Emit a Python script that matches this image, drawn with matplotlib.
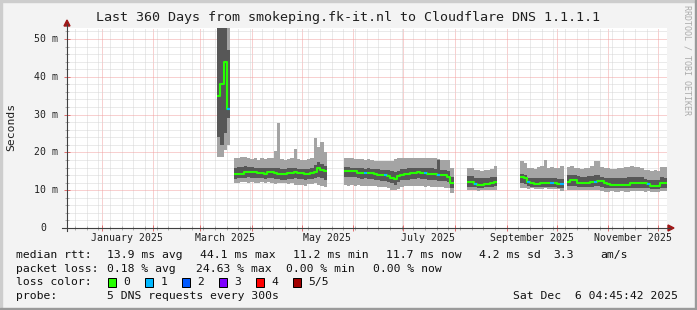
import datetime as dt
import numpy as np
import matplotlib
matplotlib.use("Agg")
import matplotlib.pyplot as plt
import matplotlib.dates as mdates
from matplotlib.patches import Rectangle, Polygon
from matplotlib.lines import Line2D

nan = np.nan
W, H = 697, 310

# time frame of the graph, samples are 2 day bins starting at day 90
start = dt.datetime(2024, 12, 11, 4, 45, 42)
end = dt.datetime(2025, 12, 6, 4, 45, 42)
first_day = 90
bin_days = 2

# median rtt in ms (nan = no data)
median_ms = [35, 38, 44, 31.5, nan,
             14.3, 14.3, 14.4, 14.8, 14.9, 14.9, 14.9, 14.6, 14.5, 14.4, 14.9, 14.9, 14.6, 14.3,
             14.2, 14.2, 14.5, 14.6, 14.7, 14.6, 14.6, 14.2, 14.4, 14.6, 14.8, 15.8, 15.4, 15.0,
             nan, nan, nan, nan, nan,
             15.1, 15.1, 15.0, 15.0, 14.6, 14.5, 14.6, 14.6, 14.5, 14.3, 14.1, 14.1, 13.9, 13.8,
             13.3, 13.0, 13.8, 14.1, 14.3, 14.3, 14.6, 14.5, 14.7, 14.6, 14.5, 14.3, 14.2, 14.2,
             14.0, 13.9, 13.9, 13.6, 11.9,
             nan, nan, nan, nan,
             12.1, 12.1, 11.6, 11.4, 11.4, 11.6, 11.6, 11.8, 12.1,
             nan, nan, nan, nan, nan, nan, nan,
             13.4, 13.2, 12.1, 12.0, 11.6, 11.6, 11.8, 11.8, 11.8, 11.8, 11.8, 11.6, 11.6,
             nan,
             12.1, 12.7, 12.7, 11.9, 11.9, 11.9, 11.9, 12.1, 12.1, 12.4, 12.4, 11.9, 11.6, 11.4, 11.4,
             11.4, 11.4, 11.4, 11.4, 11.8, 11.8, 11.8, 11.8, 11.8, 11.6, 11.2, 11.2, 11.2, 11.9, 11.9]

# smoke: outer band (min..max) and inner band
outer_hi = [53, 53, 53, 53, nan,
            18.4, 18.6, 18.9, 18.7, 18.5, 18.3, 18.6, 18.0, 18.4, 18.2, 18.6, 18.5, 20.4, 27.8,
            18.3, 18.0, 18.2, 18.4, 21.0, 18.2, 18.0, 17.9, 18.2, 18.4, 23.8, 21.5, 22.8, 20.0,
            nan, nan, nan, nan, nan,
            18.6, 18.5, 18.4, 18.3, 18.2, 18.3, 18.1, 18.2, 18.0, 17.8, 17.7, 17.7, 17.6, 17.7,
            17.8, 18.2, 18.4, 18.5, 18.5, 18.6, 18.4, 18.6, 18.5, 18.6, 18.6, 18.5, 18.6, 18.4,
            18.2, 18.1, 18.1, 18.0, 16.0,
            nan, nan, nan, nan,
            15.9, 15.8, 15.3, 15.4, 15.2, 15.3, 15.4, 15.6, 16.5,
            nan, nan, nan, nan, nan, nan, nan,
            17.6, 17.3, 15.8, 15.9, 15.7, 16.2, 16.3, 17.9, 16.0, 16.1, 15.9, 16.0, 16.5,
            nan,
            16.2, 16.4, 15.8, 15.9, 15.7, 15.8, 16.0, 16.3, 17.7, 17.8, 16.2, 15.8, 15.9, 15.7, 15.6,
            15.8, 15.9, 16.1, 16.2, 16.3, 16.1, 16.2, 16.0, 15.4, 15.3, 15.2, 15.3, 15.2, 16.2, 16.1]

outer_lo = [18.8, 18.8, 20.6, 22, nan,
            12.0, 12.0, 12.2, 12.1, 12.0, 12.2, 12.0, 11.9, 12.1, 12.0, 12.1, 11.8, 11.6, 11.8,
            11.9, 12.0, 11.7, 11.8, 11.5, 11.4, 11.3, 11.2, 11.6, 11.6, 11.8, 11.5, 11.0, 10.8,
            nan, nan, nan, nan, nan,
            11.3, 11.2, 11.3, 11.2, 11.3, 11.2, 11.2, 11.1, 11.0, 11.0, 10.9, 10.9, 10.8, 10.6,
            10.0, 10.0, 10.4, 10.8, 11.0, 11.1, 11.1, 11.0, 11.1, 11.0, 10.9, 11.0, 10.9, 10.8,
            10.9, 10.8, 10.7, 10.6, 9.3,
            nan, nan, nan, nan,
            10.0, 10.1, 10.0, 9.9, 10.0, 10.1, 10.0, 10.0, 10.1,
            nan, nan, nan, nan, nan, nan, nan,
            10.5, 10.5, 10.4, 10.5, 10.4, 10.3, 10.4, 10.5, 10.4, 10.3, 10.2, 10.2, 9.9,
            nan,
            10.0, 10.1, 10.0, 10.0, 10.1, 10.0, 10.0, 10.1, 10.0, 10.0, 9.8, 9.6, 9.6, 9.7, 9.6,
            9.6, 9.7, 9.6, 9.6, 9.7, 9.7, 9.8, 9.7, 9.6, 9.7, 9.6, 9.5, 9.6, 9.8, 9.9]

inner_hi = [53, 53, 53, 47, nan,
            16.0, 16.1, 16.2, 16.3, 16.2, 16.1, 16.0, 15.9, 16.0, 15.8, 16.0, 15.9, 15.8, 15.9,
            15.6, 15.7, 15.8, 15.9, 15.8, 15.7, 15.6, 15.5, 15.7, 15.8, 16.6, 17.4, 17.0, 16.4,
            nan, nan, nan, nan, nan,
            16.2, 16.2, 16.0, 16.0, 15.9, 15.9, 15.7, 15.8, 15.7, 15.6, 15.5, 15.4, 15.3, 15.3,
            15.0, 14.8, 15.2, 15.6, 15.7, 15.8, 15.9, 15.8, 15.9, 16.0, 15.9, 15.8, 15.8, 15.7,
            18.0, 15.4, 15.3, 15.1, 13.5,
            nan, nan, nan, nan,
            13.8, 13.7, 13.3, 13.2, 13.2, 13.3, 13.3, 13.4, 13.6,
            nan, nan, nan, nan, nan, nan, nan,
            14.2, 14.0, 13.3, 13.2, 13.1, 13.1, 13.2, 13.3, 13.2, 13.1, 13.1, 13.0, 13.0,
            nan,
            14.0, 14.0, 13.9, 13.8, 13.6, 13.6, 13.7, 13.8, 14.0, 14.0, 13.6, 13.3, 13.2, 13.2, 13.1,
            13.2, 13.2, 13.3, 13.4, 13.4, 13.5, 13.4, 13.4, 13.0, 12.8, 12.7, 12.7, 12.8, 13.4, 13.3]

inner_lo = [24, 22, 25, 29, nan,
            13.0, 13.1, 13.1, 13.3, 13.4, 13.3, 13.3, 13.2, 13.1, 13.0, 13.3, 13.2, 13.0, 12.9,
            12.8, 12.8, 13.0, 13.0, 13.1, 13.0, 12.9, 12.7, 12.9, 13.0, 13.2, 13.6, 13.2, 12.8,
            nan, nan, nan, nan, nan,
            13.6, 13.5, 13.5, 13.4, 13.1, 13.0, 13.1, 13.0, 12.9, 12.7, 12.6, 12.5, 12.3, 12.2,
            11.8, 11.5, 12.2, 12.6, 12.8, 12.8, 13.0, 12.9, 13.1, 13.0, 12.9, 12.7, 12.6, 12.6,
            12.5, 12.4, 12.3, 12.1, 10.5,
            nan, nan, nan, nan,
            10.9, 10.9, 10.8, 10.7, 10.7, 10.8, 10.8, 10.9, 11.0,
            nan, nan, nan, nan, nan, nan, nan,
            11.8, 11.6, 11.0, 10.9, 10.8, 10.8, 10.9, 10.9, 10.9, 10.8, 10.8, 10.7, 10.5,
            nan,
            11.0, 11.2, 11.1, 10.9, 10.8, 10.8, 10.9, 10.9, 11.0, 11.0, 10.8, 10.6, 10.5, 10.5, 10.5,
            10.5, 10.6, 10.6, 10.6, 10.7, 10.7, 10.7, 10.7, 10.6, 10.5, 10.3, 10.3, 10.3, 10.6, 10.7]

# bins where 1 of 5 pings was lost
loss1_bins = [3, 44, 50, 62, 66, 77, 93, 100, 103, 113, 129]

y_ticks = [0, 10, 20, 30, 40, 50]
y_labels = ["0", "10 m", "20 m", "30 m", "40 m", "50 m"]
month_labels = ["January 2025", "March 2025", "May 2025", "July 2025",
                "September 2025", "November 2025"]
month_label_dates = [dt.datetime(2025, m, 16) for m in (1, 3, 5, 7, 9, 11)]

loss_names = ["0", "1", "2", "3", "4", "5/5"]
loss_colors = ["#26ff00", "#00b8ff", "#0059ff", "#7e00ff", "#ff0000", "#a10000"]

legend_rows = [
    [("median rtt:", 16), ("13.9 ms avg", 107.3), ("44.1 ms max", 200), ("11.2 ms min", 293.3),
     ("11.7 ms now", 386), ("4.2 ms sd", 479.3), ("3.3", 553.3), ("am/s", 600.7)],
    [("packet loss:", 16), ("0.18 % avg", 107.3), ("24.63 % max", 196), ("0.00 % min", 286),
     ("0.00 % now", 372.7)],
    [("loss color:", 16)],
    [("probe:", 16), ("5 DNS requests every 300s", 107.3)],
]
stamp = "Sat Dec  6 04:45:42 2025"
title = "Last 360 Days from smokeping.fk-it.nl to Cloudflare DNS 1.1.1.1"

MONO = "DejaVu Sans Mono"
BG = "#f3f3f3"


def px(x, y):
    return x / W, 1 - y / H


fig = plt.figure(figsize=(W / 100, H / 100), dpi=100, facecolor=BG)

# 3d-ish frame: light top/left, dark bottom/right
fig.patches.append(Rectangle(px(0, 310), 2 / W, 1, transform=fig.transFigure, color="#cdcdcd"))
fig.patches.append(Rectangle(px(0, 2), 1, 2 / H, transform=fig.transFigure, color="#cdcdcd"))
fig.patches.append(Rectangle(px(695, 310), 2 / W, 1, transform=fig.transFigure, color="#9a9a9a"))
fig.patches.append(Rectangle(px(0, 310), 1, 2 / H, transform=fig.transFigure, color="#9a9a9a"))

ax = fig.add_axes([67 / W, 1 - 228 / H, 600 / W, 200 / H])
ax.set_facecolor("white")

t0 = mdates.date2num(start)
lefts = t0 + first_day + bin_days * np.arange(len(median_ms))

o_lo = np.array(outer_lo)
o_hi = np.array(outer_hi)
i_lo = np.array(inner_lo)
i_hi = np.array(inner_hi)
med = np.array(median_ms)

ax.bar(lefts, o_hi - o_lo, bottom=o_lo, width=bin_days, align="edge",
       color="#a4a4a4", linewidth=0, antialiased=False, zorder=2)
ax.bar(lefts, i_hi - i_lo, bottom=i_lo, width=bin_days, align="edge",
       color="#575757", linewidth=0, antialiased=False, zorder=3)

xs = np.column_stack([lefts, lefts + bin_days]).ravel()
ys = np.repeat(med, 2)
ax.plot(xs, ys, color=loss_colors[0], lw=1.5, solid_capstyle="butt", zorder=4)
for k in loss1_bins:
    ax.hlines(med[k], lefts[k], lefts[k] + bin_days, colors=loss_colors[1], lw=1.5, zorder=5)

ax.set_xlim(mdates.date2num(start), mdates.date2num(end))
ax.set_ylim(0, 52.9)

ax.xaxis.set_major_locator(mdates.MonthLocator(bymonthday=1))
ax.xaxis.set_minor_locator(mdates.WeekdayLocator(byweekday=mdates.MO))
ax.set_yticks(y_ticks)
ax.set_yticks(np.arange(0, 53, 2), minor=True)
ax.grid(which="minor", color="#d6d6d6", lw=0.72, ls=(0, (1, 1)), zorder=1)
ax.grid(which="major", color="#f2a2a2", lw=0.72, ls=(0, (1, 1)), zorder=1)
ax.set_axisbelow(True)
ax.tick_params(which="both", labelleft=False, labelbottom=False, direction="inout")
ax.tick_params(which="major", length=4, width=0.72, color="#e07070")
ax.tick_params(which="minor", length=3, width=0.72, color="#b0b0b0")
for s in ax.spines.values():
    s.set_visible(False)

# axes with arrows
fig.add_artist(Line2D(*zip(px(67, 231), px(67, 24)), transform=fig.transFigure, color="#404040", lw=0.8))
fig.add_artist(Line2D(*zip(px(62, 228), px(670, 228)), transform=fig.transFigure, color="#404040", lw=0.8))
fig.add_artist(Polygon([px(67, 20), px(64, 26), px(70, 26)], closed=True,
                       transform=fig.transFigure, color="#a01818"))
fig.add_artist(Polygon([px(674, 228), px(668, 225), px(668, 231)], closed=True,
                       transform=fig.transFigure, color="#a01818"))

# tick labels
for v, lab in zip(y_ticks, y_labels):
    xr = -8.7 / 600 if lab != "0" else -20.7 / 600
    ax.text(xr, v, lab, transform=ax.get_yaxis_transform(), ha="right", va="center",
            family=MONO, fontsize=7.15, color="#202020")
for d, lab in zip(month_label_dates, month_labels):
    ax.text(mdates.date2num(d), -10 / 200, lab, transform=ax.get_xaxis_transform(),
            ha="center", va="center", family=MONO, fontsize=7.15, color="#202020")

fig.text(*px(348.5, 18), title, ha="center", va="center", family=MONO, fontsize=9.6, color="#202020")
fig.text(*px(11, 127), "Seconds", ha="center", va="center", rotation=90, family=MONO,
         fontsize=8.2, color="#202020")
fig.text(*px(687, 60), "RRDTOOL / TOBI OETIKER", ha="center", va="center", rotation=270,
         family=MONO, fontsize=6, color="#ababab")

# legend
row_y = [255, 268.5, 282, 296]
for row, y in zip(legend_rows, row_y):
    for txt, x in row:
        fig.text(*px(x, y), txt, ha="left", va="center", family=MONO, fontsize=8.2, color="#101010")
for i, (name, c) in enumerate(zip(loss_names, loss_colors)):
    bx = 108.3 + i * 37
    fig.patches.append(Rectangle(px(bx, 286.5), 8 / W, 8.5 / H, transform=fig.transFigure,
                                 facecolor=c, edgecolor="black", lw=0.72))
    fig.text(*px(bx + 15, 282), name, ha="left", va="center", family=MONO, fontsize=8.2, color="#101010")
fig.text(*px(513.3, 296), stamp, ha="left", va="center", family=MONO, fontsize=8.2, color="#101010")

fig.savefig("out.png", dpi=100, facecolor=BG)
